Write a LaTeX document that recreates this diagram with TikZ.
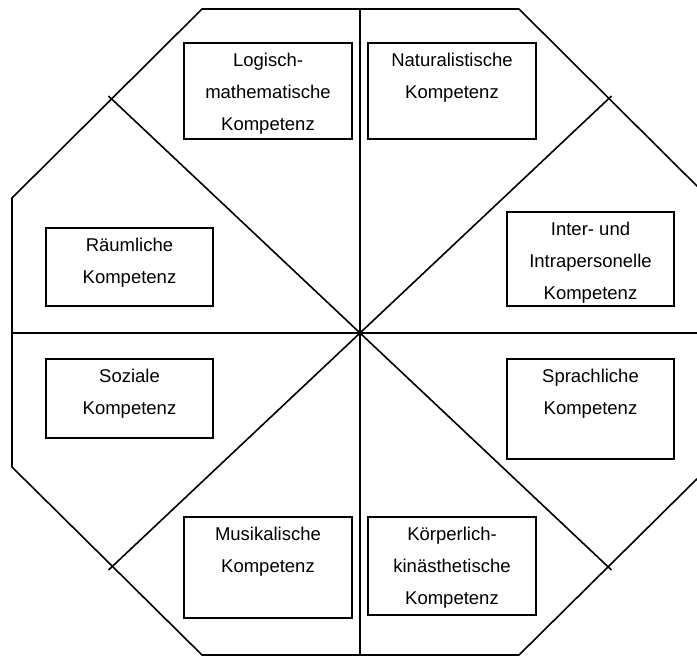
\documentclass[tikz,border=0pt]{standalone}
\usepackage{fontspec}
\setmainfont{Liberation Sans}
\usepackage{tikz}
\usetikzlibrary{positioning}

\begin{document}
\begin{tikzpicture}[x=1pt, y=-1pt,
							line width=1.6pt,
							feld/.style={rectangle,draw,line width=1.6pt,inner sep=0pt},
							kompetenz/.style={align=center,inner sep=3pt,
								font=\fontsize{18.5}{32}\selectfont},
							%feld/.style={minimum width=168pt},
							line join=miter]
			\clip (0,0) rectangle (697,657);
			% Achteck
			\coordinate (m) at (360,333);
			\draw (202,9) -- (519,9) -- (709,198) -- (709,467) -- (519,655)
				-- (202,655) -- (12,467) -- (12,198) -- cycle;
			\coordinate (oben) at (360,9);
			\coordinate (unten) at (360,655);
			\coordinate (links) at (12,333);
			\coordinate (rechts) at (709,333);
			\coordinate (ol) at (108.5,96);
			\coordinate (or) at (611.5,96);
			\coordinate (ul) at (108.5,570);
			\coordinate (ur) at (611.5,570);
			\draw (oben) -- (unten);
			\draw (links) -- (rechts);
			\draw (m) -- (ol);
			\draw (m) -- (or);
			\draw (m) -- (ul);
			\draw (m) -- (ur);
			% Kaesten
			\node[feld, minimum width=168pt, minimum height=96pt] (logik) at (268,91) {};
			\node[feld, minimum width=168pt, minimum height=96pt] (natur) at (452,91) {};
			\node[feld, minimum width=167pt, minimum height=94pt] (inter) at (590.5,259) {};
			\node[feld, minimum width=167pt, minimum height=78pt] (raum) at (129.5,267) {};
			\node[feld, minimum width=167pt, minimum height=79pt] (sozial) at (129.5,398.5) {};
			\node[feld, minimum width=167pt, minimum height=100pt] (sprache) at (590.5,409) {};
			\node[feld, minimum width=168pt, minimum height=101pt] (musik) at (268,567.5) {};
			\node[feld, minimum width=168pt, minimum height=98pt] (koerper) at (452,566) {};
			% Texte
			\node[kompetenz, below=7.5pt of logik.north] (logik-t) {Logisch-\\mathematische\\Kompetenz};
			\node[kompetenz, below=7.5pt of natur.north] (natur-t) {Naturalistische\\Kompetenz};
			\node[kompetenz, below=7.5pt of inter.north] (inter-t) {Inter- und\\Intrapersonelle\\Kompetenz};
			\node[kompetenz, below=7.5pt of raum.north] (raum-t) {Räumliche\\Kompetenz};
			\node[kompetenz, below=7.5pt of sozial.north] (sozial-t) {Soziale\\Kompetenz};
			\node[kompetenz, below=7.5pt of sprache.north] (sprache-t) {Sprachliche\\Kompetenz};
			\node[kompetenz, below=7.5pt of musik.north] (musik-t) {Musikalische\\Kompetenz};
			\node[kompetenz, below=7.5pt of koerper.north] (koerper-t) {Körperlich-\\kinästhetische\\Kompetenz};
		\end{tikzpicture}
\end{document}
